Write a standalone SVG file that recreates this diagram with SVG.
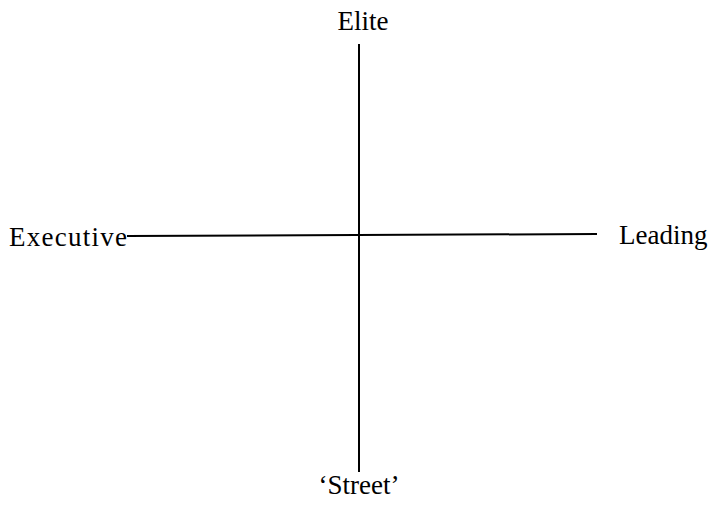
<svg xmlns="http://www.w3.org/2000/svg" width="713" height="512" viewBox="0 0 713 512">
<style>
text { font-family: "Liberation Serif", "Times New Roman", serif; font-size: 27px; fill: #000; }
.axis { stroke: #000; stroke-width: 2; fill: none; }
</style>
<rect width="713" height="512" fill="#fff"/>
<g id="connectors">
<line class="axis" x1="359" y1="44" x2="359" y2="472"/>
<line class="axis" x1="127" y1="236" x2="597" y2="234"/>
</g>
<g id="elite"><text x="363" y="30" text-anchor="middle">Elite</text></g>
<g id="executive"><text x="9" y="246" textLength="118" lengthAdjust="spacing">Executive</text></g>
<g id="leading"><text x="619" y="244">Leading</text></g>
<g id="street"><text x="359" y="494" text-anchor="middle">‘Street’</text></g>
</svg>
